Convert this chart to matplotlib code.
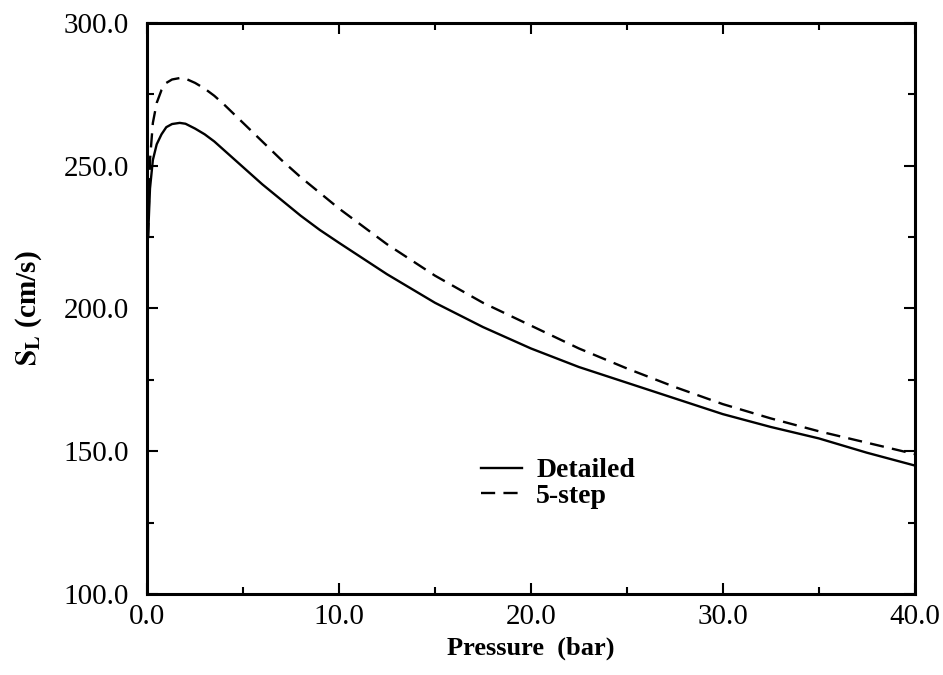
import matplotlib
matplotlib.use("Agg")
import matplotlib.pyplot as plt
from matplotlib.ticker import MultipleLocator, FormatStrFormatter

plt.rcParams['font.family'] = ['Liberation Serif', 'DejaVu Serif']
plt.rcParams['mathtext.fontset'] = 'stix'

# laminar flame speed vs pressure
pressure = [0.05, 0.15, 0.3, 0.5, 0.75, 1.0, 1.3, 1.7, 2.0, 2.5, 3.0, 3.5,
            4.0, 5.0, 6.0, 7.0, 8.0, 9.0, 10.0, 12.5, 15.0, 17.5, 20.0,
            22.5, 25.0, 27.5, 30.0, 32.5, 35.0, 37.5, 40.0]
sl_detailed = [225, 242, 252, 257.5, 261, 263.5, 264.6, 265, 264.7, 263,
               261, 258.5, 255.5, 249.5, 243.5, 238, 232.5, 227.5, 223, 212,
               202, 193.5, 186, 179.5, 174, 168.5, 163, 158.5, 154.5, 149.5,
               145]
sl_5step = [225, 252, 265, 272, 276.5, 279, 280.2, 280.7, 280.5, 279, 277,
            274.5, 271.5, 265, 258.5, 252, 246, 240.5, 235, 222.5, 211.5, 202,
            194, 186, 179, 172.5, 166.5, 161.5, 157, 153, 149]

fig = plt.figure(figsize=(9.43, 6.75), dpi=100)
ax = fig.add_subplot(111)
fig.subplots_adjust(left=0.156, right=0.970, top=0.966, bottom=0.12)

ax.plot(pressure, sl_detailed, color='black', lw=1.7, label='Detailed')
ax.plot(pressure, sl_5step, color='black', lw=1.7, ls=(0, (6, 3.5)), label='5-step')

ax.set_xlim(0, 40)
ax.set_ylim(100, 300)
ax.xaxis.set_major_locator(MultipleLocator(10))
ax.xaxis.set_minor_locator(MultipleLocator(5))
ax.yaxis.set_major_locator(MultipleLocator(50))
ax.yaxis.set_minor_locator(MultipleLocator(25))
ax.xaxis.set_major_formatter(FormatStrFormatter('%.1f'))
ax.yaxis.set_major_formatter(FormatStrFormatter('%.1f'))
ax.tick_params(which='both', direction='in', top=True, right=True, width=1.5)
ax.tick_params(which='major', length=8, labelsize=21)
ax.tick_params(axis='y', which='major', pad=13)
ax.tick_params(axis='x', which='major', pad=7)
ax.tick_params(which='minor', length=5)
for s in ax.spines.values():
    s.set_linewidth(2.2)

ax.set_xlabel('Pressure  (bar)', fontsize=19, fontweight='bold', labelpad=5)
ax.set_ylabel(r'$\mathbf{S_L}$ (cm/s)', fontsize=21, fontweight='bold', labelpad=14)

ax.legend(loc='upper left', bbox_to_anchor=(0.402, 0.282), frameon=False,
          prop={'weight': 'bold', 'size': 20}, handlelength=1.5,
          handletextpad=0.5, labelspacing=0.0)

fig.savefig('out.png', dpi=100)
